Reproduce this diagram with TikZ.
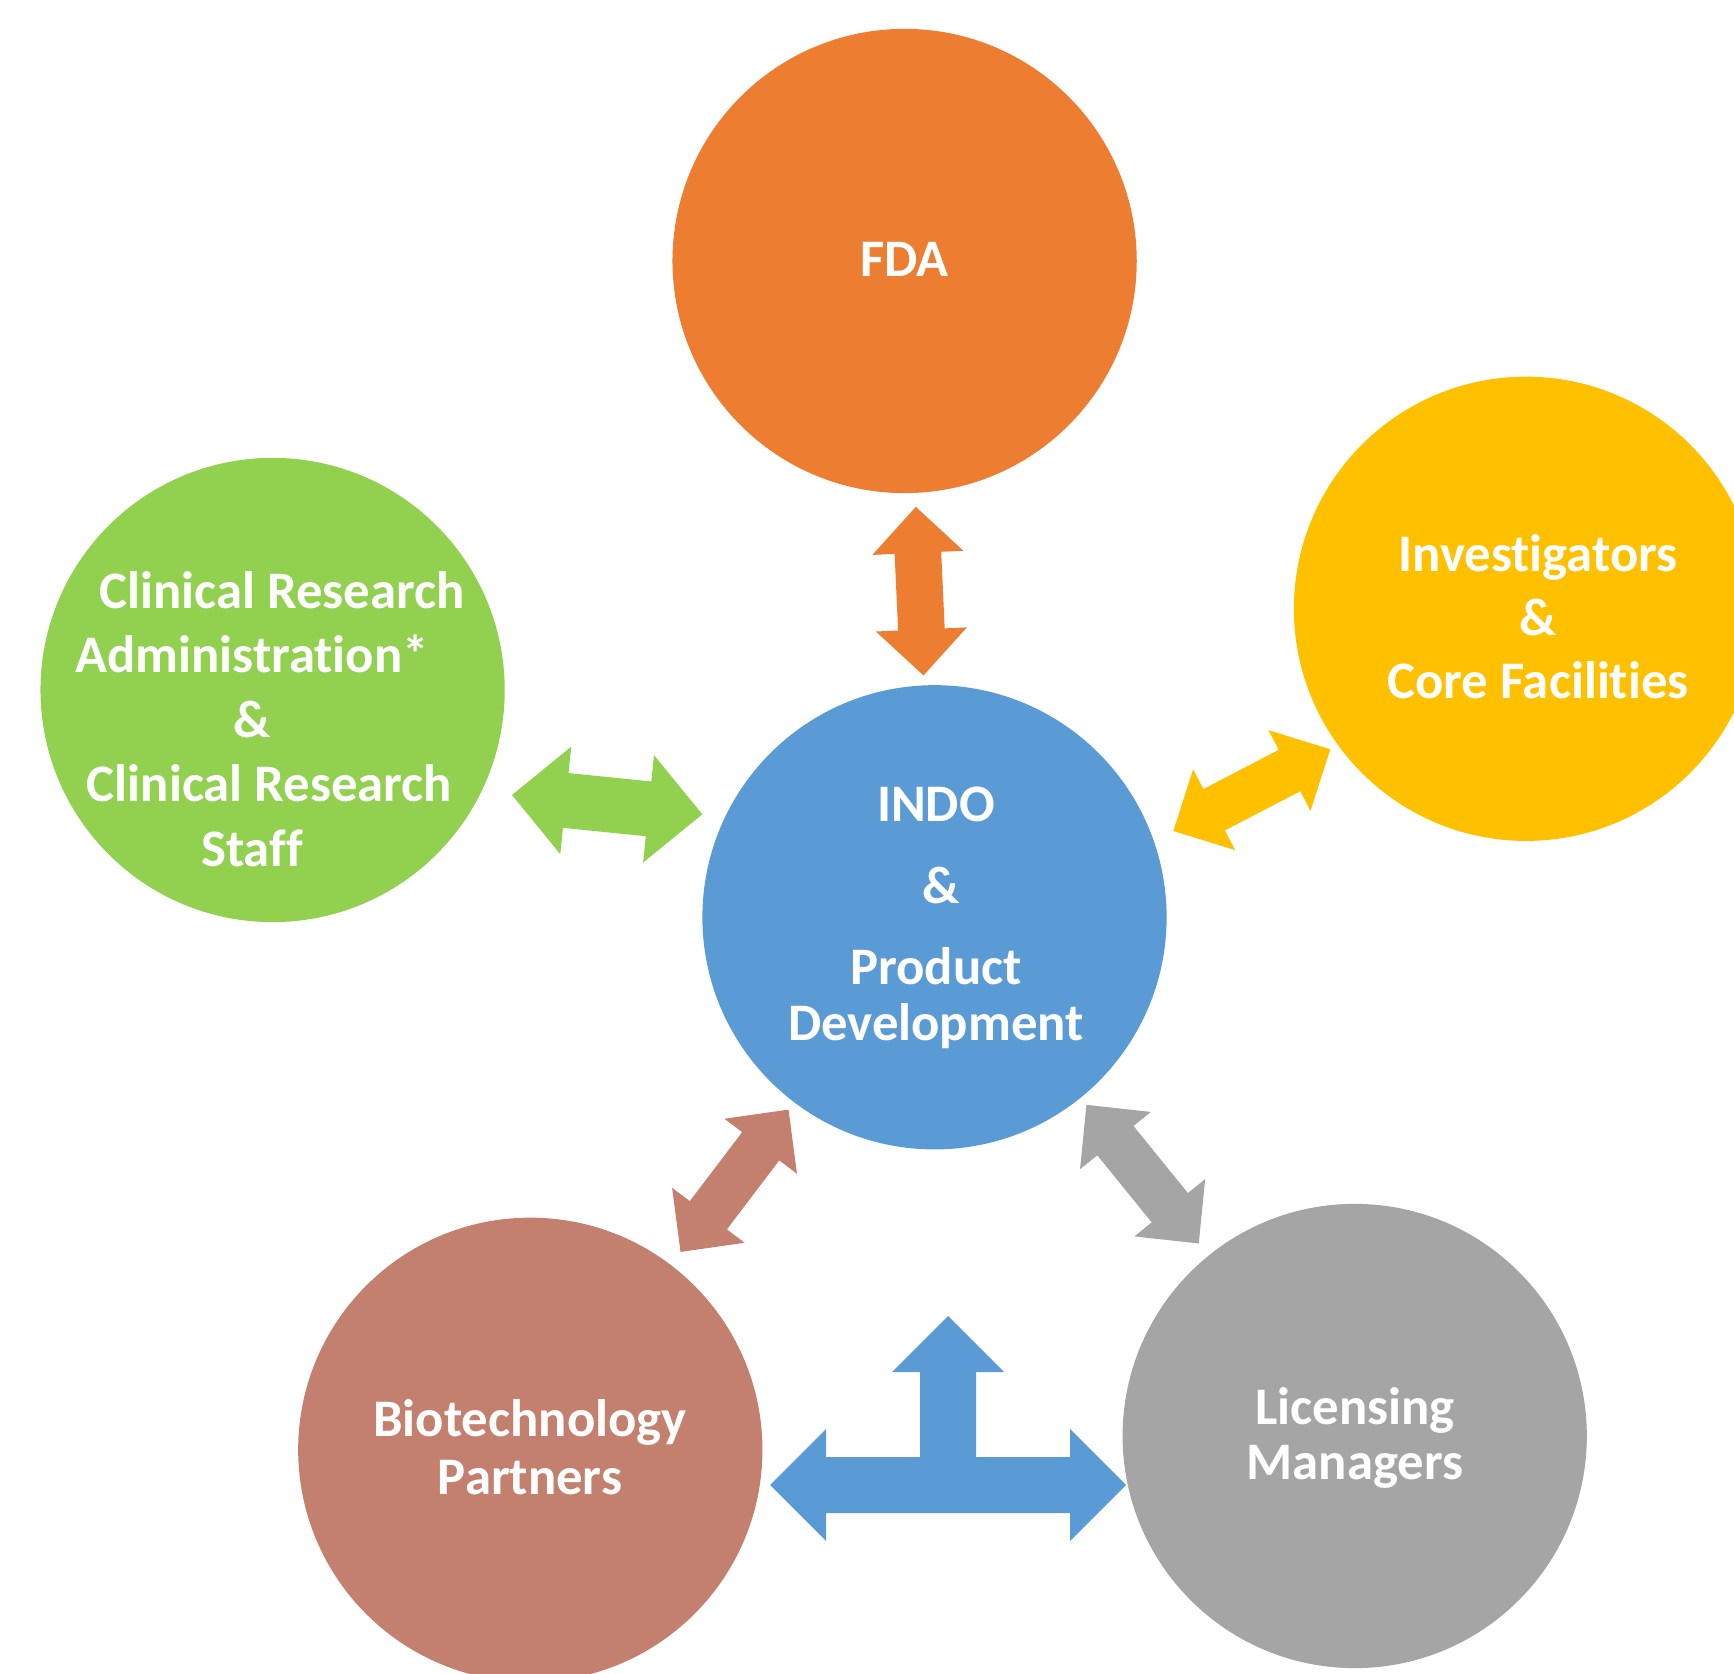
\documentclass[tikz,border=0pt]{standalone}
\usepackage{fontspec}
\setmainfont{Carlito}[Ligatures=NoCommon]
\usetikzlibrary{calc}
\definecolor{fdaorange}{HTML}{ED7D31}
\definecolor{invyellow}{HTML}{FFC000}
\definecolor{crgreen}{HTML}{92D050}
\definecolor{indoblue}{HTML}{5B9BD5}
\definecolor{biobrown}{HTML}{C4806F}
\definecolor{licgray}{HTML}{A5A5A5}
% fat double arrow: colour, tip, tip, shaft half width, head half width, head length
\newcommand{\dblarr}[6]{%
  \coordinate (h1) at ($(#2)!#6!(#3)$);
  \coordinate (h2) at ($(#3)!#6!(#2)$);
  \fill[#1] (#2) -- ($(h1)!#5!90:(#3)$) -- ($(h1)!#4!90:(#3)$) -- ($(h2)!#4!90:(#3)$)
    -- ($(h2)!#5!90:(#3)$) -- (#3) -- ($(h2)!#5!-90:(#3)$) -- ($(h2)!#4!-90:(#3)$)
    -- ($(h1)!#4!-90:(#3)$) -- ($(h1)!#5!-90:(#3)$) -- cycle;
}
\begin{document}
\begin{tikzpicture}[x=0.01cm,y=-0.01cm,
  bub/.style={circle,minimum size=4.64cm,inner sep=0pt},
  txt/.style={text=white,align=center,font=\fontsize{15}{#1}\selectfont\bfseries},
  txt/.default=15.9pt]
  \useasboundingbox (0,0) rectangle (1734,1674);
  \clip (0,0) rectangle (1734,1674);
  % the six bubbles
  \node[bub,fill=fdaorange] (fda) at (904.6,261) {};
  \node[bub,fill=invyellow] (inv) at (1526,608.8) {};
  \node[bub,fill=crgreen] (crs) at (272.6,690) {};
  \node[bub,fill=indoblue] (indo) at (934.5,917.3) {};
  \node[bub,fill=biobrown] (bio) at (530.3,1449.8) {};
  \node[bub,fill=licgray] (lic) at (1354.7,1436) {};
  % their texts
  \node[txt] at (904.6,259) {FDA};
  \node[txt=18.1pt] at (1538,617) {Investigators\\\&\\Core Facilities};
  \node[txt=18.3pt] at (252,719) {\hspace*{17pt}Clinical Research\\Administration*\\\&\\
    \hspace*{10pt}Clinical Research\\Staff};
  \node[txt] at (936,918) {INDO\\[7.3pt]\hspace*{2.8pt}\&\\[7.3pt]Product\\Development};
  \node[txt=16.6pt] at (530,1447) {Biotechnology\\Partners};
  \node[txt=15.6pt] at (1355,1438) {Licensing\\Managers};
  % arrow tips
  \coordinate (otop) at ($(fda)!2.46cm!(indo)$);
  \coordinate (obot) at ($(indo)!2.42cm!(fda)$);
  \coordinate (bup) at ($(indo)!2.413cm!(bio)$);
  \coordinate (blow) at ($(bio)!2.483cm!(indo)$);
  \coordinate (gup) at ($(indo)!2.412cm!(lic)$);
  \coordinate (glow) at ($(lic)!2.476cm!(indo)$);
  \coordinate (yleft) at (1173.3,831);
  \coordinate (yright) at (1330.3,749.3);
  \coordinate (cleft) at (512,795);
  \coordinate (cright) at (702.3,814.3);
  % arrows
  \dblarr{fdaorange}{otop}{obot}{0.233cm}{0.455cm}{0.46cm}
  \dblarr{invyellow}{yleft}{yright}{0.233cm}{0.455cm}{0.46cm}
  \dblarr{crgreen}{cleft}{cright}{0.275cm}{0.54cm}{0.54cm}
  \dblarr{biobrown}{bup}{blow}{0.233cm}{0.455cm}{0.46cm}
  \dblarr{licgray}{gup}{glow}{0.233cm}{0.455cm}{0.46cm}
  % the three-way arrow under INDO
  \fill[indoblue] (770,1485) -- (826,1429) -- (826,1457) -- (920,1457) -- (920,1372)
    -- (892,1372) -- (948,1316) -- (1004,1372) -- (976,1372) -- (976,1457) -- (1070,1457)
    -- (1070,1429) -- (1126,1485) -- (1070,1541) -- (1070,1513) -- (826,1513)
    -- (826,1541) -- cycle;
\end{tikzpicture}
\end{document}
